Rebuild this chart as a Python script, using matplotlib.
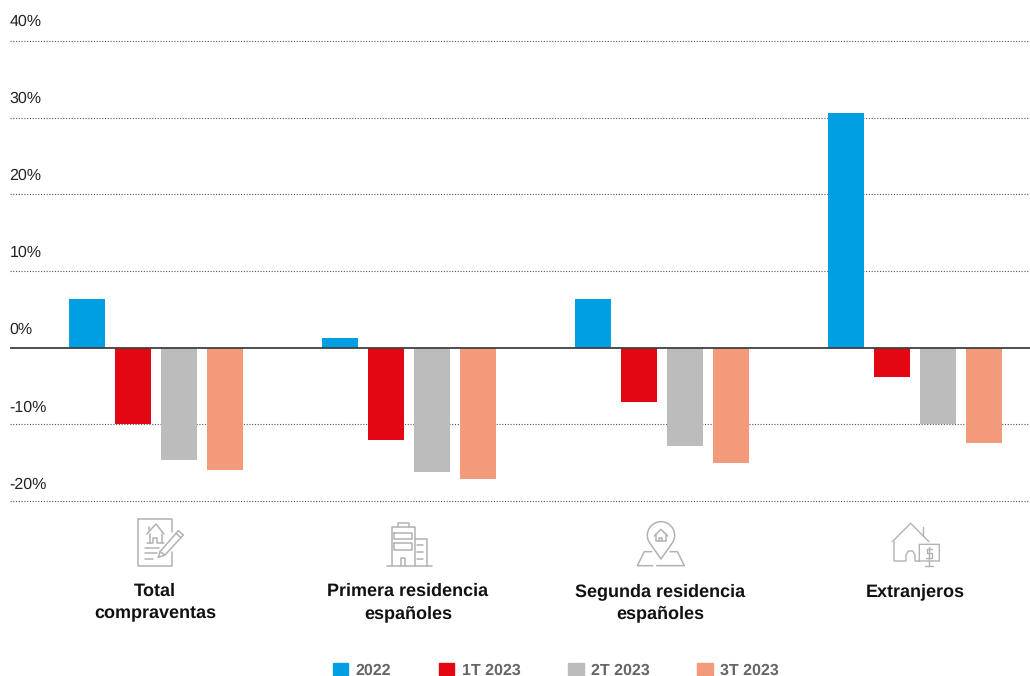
import numpy as np
import matplotlib
matplotlib.use('Agg')
import matplotlib.pyplot as plt
from matplotlib.patches import Patch

plt.rcParams['font.family'] = ['Liberation Sans', 'DejaVu Sans']
plt.rcParams['text.hinting'] = 'no_hinting'
plt.rcParams['text.hinting_factor'] = 1

categories = ['Total\ncompraventas', 'Primera residencia\nespañoles', 'Segunda residencia\nespañoles', 'Extranjeros']
series_names = ['2022', '1T 2023', '2T 2023', '3T 2023']
v_2022 = [6.4, 1.2, 6.4, 30.6]
v_1t = [-9.9, -12.0, -7.1, -3.8]
v_2t = [-14.6, -16.2, -12.8, -9.9]
v_3t = [-16.0, -17.1, -15.0, -12.4]
y_ticks = [40, 30, 20, 10, 0, -10, -20]
y_labels = ['40%', '30%', '20%', '10%', '0%', '-10%', '-20%']
colors = ['#009fe3', '#e30613', '#bcbcbc', '#f39a7b']

W, H = 1030, 676
fig = plt.figure(figsize=(W / 100, H / 100), dpi=100)

# main axes: left edge 10px, y from -20 (501px) to 40 (41px)
ax = fig.add_axes([10 / W, 1 - 501 / H, 1020 / W, 460 / H])
step = 253.0
ax.set_xlim((10 - 155.8) / step, (1030 - 155.8) / step)
ax.set_ylim(-20, 40)
x = np.arange(len(categories))
w = 36.5 / step
off = 46 / step
for i, vals in enumerate([v_2022, v_1t, v_2t, v_3t]):
    ax.bar(x + (i - 1.5) * off, vals, w, color=colors[i], zorder=3)
for t in y_ticks:
    if t == 0:
        ax.axhline(0, color='#404040', lw=1.3, zorder=4)
    else:
        ax.axhline(t, color='#555555', lw=0.8, ls=(0, (1, 1.5)), zorder=2, clip_on=False)
for s in ax.spines.values():
    s.set_visible(False)
ax.set_xticks([])
ax.set_yticks([])
ax.patch.set_alpha(0)

# overlay in pixel coords for labels and icons
ov = fig.add_axes([0, 0, 1, 1])
ov.set_xlim(0, W)
ov.set_ylim(H, 0)
ov.axis('off')
ov.patch.set_alpha(0)

for lab, yy in zip(y_labels, np.linspace(21.5, 484.5, 7)):
    ov.text(9.5, yy, lab, ha='left', va='center', fontsize=11.4, color='#222222')

label_x = [155, 408, 660, 915]
for cat, cx in zip(categories, label_x):
    ov.text(cx, 583, cat, ha='center', va='top', fontsize=12.7, fontweight='bold',
            color='#111111', linespacing=1.42)

def icon(ox, oy, lines, lw=1.1):
    # shapes are written in zoomed crop coords (3x)
    for pts in lines:
        p = np.array(pts, dtype=float)
        ov.plot(ox + p[:, 0] / 3, oy + p[:, 1] / 3, color='#b2b2b2', lw=lw,
                solid_capstyle='round', solid_joinstyle='round')

# contract
icon(100, 510, [
    [(115, 28), (217, 28), (217, 65)],
    [(217, 125), (217, 168), (115, 168), (115, 28)],
    [(140, 72), (168, 42), (192, 72)],
    [(148, 50), (148, 60)],
    [(150, 72), (150, 100)],
    [(185, 72), (185, 100)],
    [(140, 100), (160, 100), (160, 85), (172, 85), (172, 100), (192, 100)],
    [(135, 113), (178, 113)],
    [(135, 130), (170, 130)],
    [(135, 147), (160, 147)],
    [(175, 142), (180, 125), (235, 62), (250, 75), (195, 135), (175, 142)],
    [(228, 70), (243, 83)],
    [(180, 125), (195, 135)],
])
# buildings
icon(100, 510, [
    [(860, 167), (995, 167)],
    [(875, 167), (875, 52), (945, 52), (945, 167)],
    [(893, 52), (893, 38), (926, 38), (926, 52)],
    [(883, 68), (935, 68), (935, 86), (883, 86), (883, 68)],
    [(883, 100), (935, 100), (935, 120), (883, 120), (883, 100)],
    [(902, 167), (902, 143), (916, 143), (916, 167)],
    [(945, 86), (982, 86), (982, 167)],
    [(950, 105), (968, 105)],
    [(950, 125), (968, 125)],
    [(950, 147), (968, 147)],
])
# map pin
th = np.linspace(np.radians(-40), np.radians(220), 40)
pin = [(183 + 41 * np.cos(a), 76 - 41 * np.sin(a)) for a in th]
icon(600, 510, [
    pin + [(183, 147)] + [pin[0]],
    [(163, 78), (183, 58), (203, 78)],
    [(169, 72), (169, 94), (197, 94), (197, 72)],
    [(178, 94), (178, 84), (187, 84), (187, 94)],
    [(155, 125), (133, 125), (112, 167), (158, 167)],
    [(210, 125), (232, 125), (253, 167), (170, 167)],
])
# house with monitor
icon(600, 510, [
    [(877, 95), (932, 40), (987, 95)],
    [(970, 50), (970, 78)],
    [(882, 95), (882, 153), (918, 153), (918, 135), (925, 123), (938, 123), (945, 135), (945, 153), (1018, 153), (1018, 103), (958, 103), (958, 153)],
    [(987, 153), (987, 167)],
    [(975, 167), (999, 167)],
    [(995, 117), (980, 117), (980, 130), (995, 130), (995, 143), (978, 143)],
    [(987, 110), (987, 148)],
], lw=1.0)

handles = [Patch(color=c, label=n) for c, n in zip(colors, series_names)]
leg = fig.legend(handles=handles, ncol=4, frameon=False, loc='center left',
                 bbox_to_anchor=(333 / W, 1 - 670.5 / H), borderaxespad=0, borderpad=0,
                 handlelength=0.95, handleheight=0.75, handletextpad=0.45, columnspacing=2.97,
                 prop={'size': 11.6, 'weight': 'bold'}, labelcolor='#666666')

fig.savefig('out.png', dpi=100)
